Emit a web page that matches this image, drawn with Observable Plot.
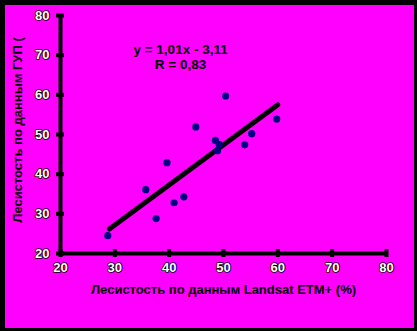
<!DOCTYPE html>
<html>
<head>
<meta charset="utf-8">
<script src="https://cdn.jsdelivr.net/npm/d3@7"></script>
<script src="https://cdn.jsdelivr.net/npm/@observablehq/plot@0.6"></script>
<style>
  html, body { margin: 0; padding: 0; background: #000; }
  #frame { position: absolute; left: 5px; top: 5px; width: 409px; height: 323px; background: #ff00ff; }
  svg { background: transparent !important; }
</style>
</head>
<body>
<div id="frame"></div>
<script>
const landsat = [28.7, 35.7, 37.6, 39.6, 40.9, 42.7, 44.9, 48.5, 48.9, 49.2, 50.4, 53.9, 55.2, 59.8];
const gup     = [24.5, 36.1, 28.8, 42.9, 32.8, 34.3, 51.9, 48.5, 45.9, 47.5, 59.7, 47.4, 50.2, 53.9];
const xTicks = [20, 30, 40, 50, 60, 70, 80];
const yTicks = [20, 30, 40, 50, 60, 70, 80];
const slope = 1.01, intercept = -3.11;
const fitX = [29, 60];
const equation = "y = 1,01x - 3,11\nR = 0,83";
const xTitle = "Лесистость по данным Landsat ETM+ (%)";
const yTitle = "Лесистость по данным ГУП (";

const points = landsat.map((x, i) => ({x, y: gup[i]}));
const fit = fitX.map(x => ({x, y: slope * x + intercept}));
const font = "'Liberation Sans', Arial, sans-serif";

const chart = Plot.plot({
  width: 409,
  height: 323,
  marginLeft: 55,
  marginRight: 28,
  marginTop: 10,
  marginBottom: 75,
  style: {background: "transparent", fontFamily: font},
  x: {domain: [20, 80], axis: null},
  y: {domain: [20, 80], axis: null},
  marks: [
    Plot.ruleY([20], {x1: 20, x2: 80, stroke: "black", strokeWidth: 4}),
    Plot.ruleX([20], {y1: 20, y2: 80, stroke: "black", strokeWidth: 4}),
    Plot.ruleX(xTicks, {x: d => d, y1: 20, y2: 20, insetTop: -4, insetBottom: -4, stroke: "black", strokeWidth: 4}),
    Plot.ruleY(yTicks, {y: d => d, x1: 20, x2: 20, insetLeft: -4, insetRight: -4, stroke: "black", strokeWidth: 4}),
    Plot.text(xTicks, {x: d => d, frameAnchor: "bottom", dy: 18, text: d => String(d),
      fontSize: 13, fontWeight: "bold", fill: "white", stroke: "black", strokeWidth: 1.6}),
    Plot.text(yTicks, {y: d => d, frameAnchor: "left", dx: -11, textAnchor: "end", text: d => String(d),
      fontSize: 13, fontWeight: "bold", fill: "white", stroke: "black", strokeWidth: 1.6}),
    Plot.text([xTitle], {frameAnchor: "bottom", dy: 40, textAnchor: "middle", text: d => d,
      fontSize: 13, fontWeight: "bold", fill: "black"}),
    Plot.text([yTitle], {frameAnchor: "left", textAnchor: "middle", dx: -43, dy: -4.5, rotate: -90, text: d => d,
      fontSize: 13, fontWeight: "bold", fill: "black"}),
    Plot.line(fit, {x: "x", y: "y", stroke: "black", strokeWidth: 5, strokeLinecap: "round"}),
    Plot.dot(points, {x: "x", y: "y", r: 3.6, fill: "#000080", stroke: "none"}),
    Plot.text([equation], {x: 42.1, y: 69.7, text: d => d, lineHeight: 1.15,
      fontSize: 13.5, fontWeight: "bold", fill: "black"})
  ]
});
document.getElementById("frame").appendChild(chart);
</script>
</body>
</html>
